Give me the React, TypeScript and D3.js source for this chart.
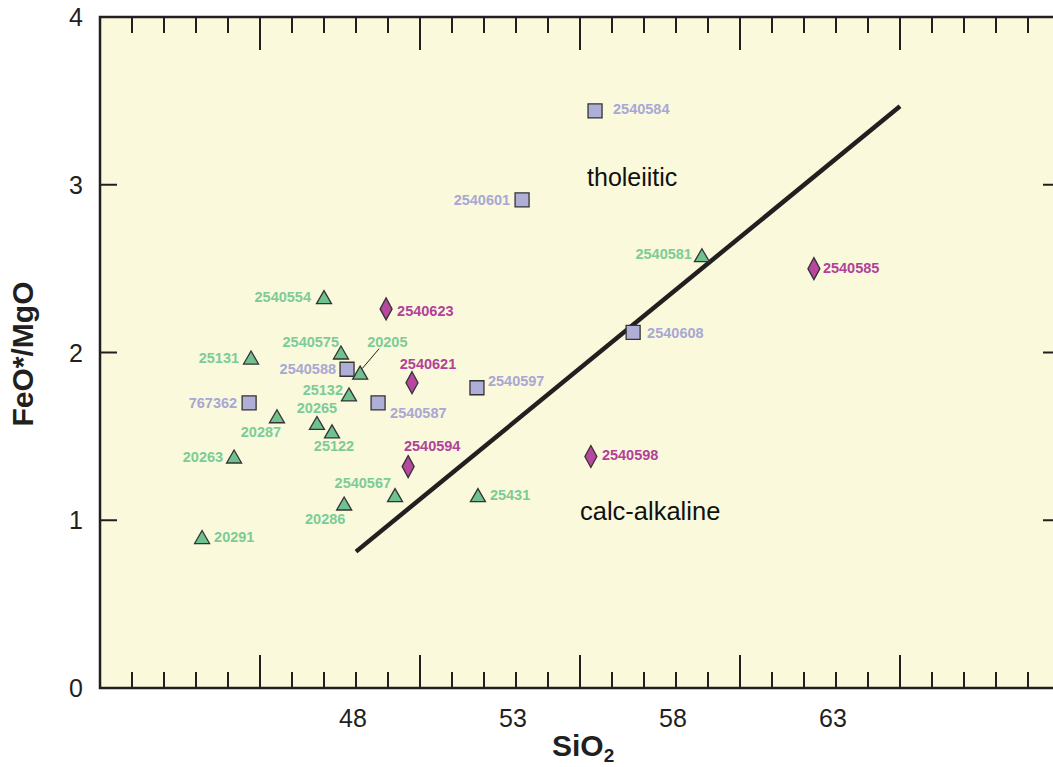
import React from "react";
import * as d3 from "d3";

const width = 1053;
const height = 767;

// plot box (the right edge runs a little past the page, like the source figure)
const left = 100;
const right = 1060;
const top = 17;
const bottom = 688;

const xDomain = [40, 70];
const yDomain = [0, 4];

const xTickLabels = [48, 53, 58, 63];
const yTickLabels = [0, 1, 2, 3, 4];
const yTicks = [1, 2, 3];

// tholeiitic / calc-alkaline boundary
const boundary: [number, number][] = [
  [48, 0.813],
  [65, 3.468],
];

// samples: [name, SiO2, FeO*/MgO]
const triangles: [string, number, number][] = [
  ["2540554", 47.0, 2.33],
  ["25131", 44.72, 1.97],
  ["2540575", 47.53, 2.0],
  ["20205", 48.13, 1.88],
  ["25132", 47.78, 1.75],
  ["20265", 46.78, 1.58],
  ["25122", 47.25, 1.53],
  ["20287", 45.53, 1.62],
  ["20263", 44.19, 1.38],
  ["2540567", 49.22, 1.15],
  ["20286", 47.63, 1.1],
  ["20291", 43.19, 0.9],
  ["25431", 51.81, 1.15],
  ["2540581", 58.81, 2.58],
];

const squares: [string, number, number][] = [
  ["2540584", 55.47, 3.44],
  ["2540601", 53.19, 2.91],
  ["2540608", 56.66, 2.12],
  ["2540588", 47.72, 1.9],
  ["767362", 44.66, 1.7],
  ["2540587", 48.69, 1.7],
  ["2540597", 51.78, 1.79],
];

const diamonds: [string, number, number][] = [
  ["2540623", 48.94, 2.26],
  ["2540621", 49.75, 1.82],
  ["2540594", 49.63, 1.32],
  ["2540598", 55.34, 1.38],
  ["2540585", 62.31, 2.5],
];

// label placement per sample: [dx, dy, anchor]
const labelPos: Record<string, [number, number, string]> = {
  "2540554": [-13, 0, "end"],
  "25131": [-12, 0, "end"],
  "2540575": [-2, -11, "end"],
  "20205": [7, -31, "start"],
  "25132": [-6, -5, "end"],
  "20265": [0, -15, "middle"],
  "25122": [2, 14, "middle"],
  "20287": [-16, 16, "middle"],
  "20263": [-11, 0, "end"],
  "2540567": [-4, -12, "end"],
  "20286": [-19, 15, "middle"],
  "20291": [12, 0, "start"],
  "25431": [12, 0, "start"],
  "2540581": [-10, -1, "end"],
  "2540584": [18, -2, "start"],
  "2540601": [-12, 0, "end"],
  "2540608": [14, 0, "start"],
  "2540588": [-11, -1, "end"],
  "767362": [-12, 0, "end"],
  "2540587": [12, 10, "start"],
  "2540597": [11, -7, "start"],
  "2540623": [11, 2, "start"],
  "2540621": [16, -19, "middle"],
  "2540594": [24, -21, "middle"],
  "2540598": [11, -2, "start"],
  "2540585": [9, -1, "start"],
};

const font = "'Liberation Sans', Arial, Helvetica, sans-serif";
const ink = "#231f20";
const bg = "#faf9dc";

const series = [
  { data: triangles, shape: "M0,-6.5L7.5,6.5L-7.5,6.5Z", fill: "#6fc18f", text: "#7ccc97" },
  { data: squares, shape: "M-7,-7H7V7H-7Z", fill: "#afaed7", text: "#a8a7d5" },
  { data: diamonds, shape: "M0,-11L6,0L0,11L-6,0Z", fill: "#b7479f", text: "#b2419a" },
];

export default function App() {
  const x = d3.scaleLinear().domain(xDomain).range([left, right]);
  const y = d3.scaleLinear().domain(yDomain).range([bottom, top]);
  const line = d3.line<[number, number]>().x((d) => x(d[0])).y((d) => y(d[1]));
  const minor = d3.range(xDomain[0] + 1, xDomain[1]);

  const p20205 = triangles.find((d) => d[0] === "20205")!;

  return (
    <svg
      width={width}
      height={height}
      style={{ position: "absolute", left: 0, top: 0, display: "block" }}
      fontFamily={font}
    >
      <rect x={left} y={top} width={right - left} height={bottom - top} fill={bg} />

      {/* x ticks, top and bottom */}
      <g stroke={ink} strokeWidth={2}>
        {minor.map((v) => {
          const len = v % 5 === 0 ? 33 : 16;
          return (
            <g key={v}>
              <line x1={x(v)} x2={x(v)} y1={top} y2={top + len} />
              <line x1={x(v)} x2={x(v)} y1={bottom} y2={bottom - len} />
            </g>
          );
        })}
        {yTicks.map((v) => (
          <g key={v}>
            <line x1={left} x2={left + 17} y1={y(v)} y2={y(v)} />
            <line x1={right} x2={right - 17} y1={y(v)} y2={y(v)} />
          </g>
        ))}
      </g>

      <rect
        x={left}
        y={top}
        width={right - left}
        height={bottom - top}
        fill="none"
        stroke={ink}
        strokeWidth={2.5}
      />

      {/* tick labels */}
      {yTickLabels.map((v) => (
        <text key={v} x={83} y={y(v)} dy="0.36em" textAnchor="end" fontSize={25} fill={ink}>
          {v}
        </text>
      ))}
      {xTickLabels.map((v) => (
        <text key={v} x={x(v) - 3} y={727} textAnchor="middle" fontSize={25} fill={ink}>
          {v}
        </text>
      ))}

      {/* axis titles */}
      <text x={552} y={756} fontSize={30} fontWeight="bold" fill={ink}>
        SiO
        <tspan fontSize={19} dy={6}>
          2
        </tspan>
      </text>
      <text
        transform={`translate(33,${354}) rotate(-90)`}
        textAnchor="middle"
        fontSize={30}
        fontWeight="bold"
        fill={ink}
      >
        FeO*/MgO
      </text>

      {/* boundary */}
      <path d={line(boundary) ?? ""} fill="none" stroke={ink} strokeWidth={4.5} />

      {/* field names */}
      <text x={x(55.22)} y={y(2.99)} fontSize={25} fill="#111">
        tholeiitic
      </text>
      <text x={x(55.0)} y={y(1.0)} fontSize={25.5} fill="#111">
        calc-alkaline
      </text>

      {/* leader for 20205 */}
      <line
        x1={x(p20205[1]) + 19}
        y1={y(p20205[2]) - 24}
        x2={x(p20205[1]) + 2}
        y2={y(p20205[2]) - 4}
        stroke={ink}
        strokeWidth={1}
      />

      {/* samples */}
      {series.map((s, i) => (
        <g key={i}>
          {s.data.map(([name, sx, sy]) => {
            const [dx, dy, anchor] = labelPos[name];
            return (
              <g key={name} transform={`translate(${x(sx)},${y(sy)})`}>
                <path d={s.shape} fill={s.fill} stroke="#333" strokeWidth={1.3} />
                <text
                  x={dx}
                  y={dy}
                  dy="0.36em"
                  textAnchor={anchor}
                  fontSize={14.5}
                  fontWeight="bold"
                  fill={s.text}
                >
                  {name}
                </text>
              </g>
            );
          })}
        </g>
      ))}
    </svg>
  );
}
